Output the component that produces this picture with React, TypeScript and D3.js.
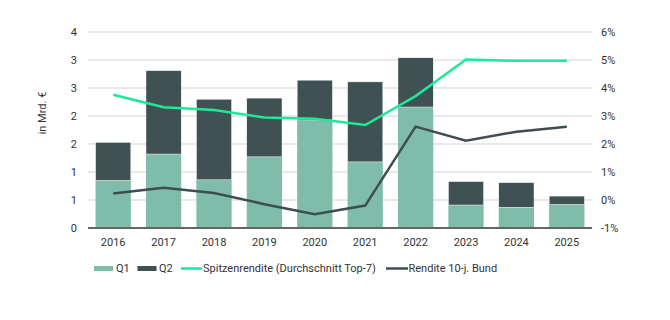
import React from "react";
import * as d3 from "d3";

const years = ["2016", "2017", "2018", "2019", "2020", "2021", "2022", "2023", "2024", "2025"];
const q1 = [0.85, 1.32, 0.86, 1.27, 1.93, 1.18, 2.16, 0.41, 0.37, 0.42];
const q2 = [0.68, 1.49, 1.44, 1.05, 0.71, 1.43, 0.88, 0.42, 0.44, 0.15];
const spitzen = [3.76, 3.31, 3.21, 2.95, 2.9, 2.68, 3.71, 5.02, 4.97, 4.97];
const bund = [0.23, 0.44, 0.25, -0.15, -0.51, -0.2, 2.62, 2.12, 2.44, 2.62];
const leftTicks = [0, 0.5, 1, 1.5, 2, 2.5, 3, 3.5];
const rightTicks = [-1, 0, 1, 2, 3, 4, 5, 6];

const W = 670, H = 320;
const M = { left: 88, right: 592, top: 32, bottom: 228 };
const C = { q1: "#80bcaa", q2: "#3f5153", green: "#1de996", bund: "#3e4e50", grid: "#d3d3d3", text: "#333" };
const FONT = "Roboto, 'Noto Sans', sans-serif";

export default function App() {
  const x = d3.scaleBand<string>().domain(years).range([M.left, M.right]).paddingInner(0.3).paddingOuter(0.15);
  const yL = d3.scaleLinear().domain([0, 3.5]).range([M.bottom, M.top]);
  const yR = d3.scaleLinear().domain([-1, 6]).range([M.bottom, M.top]);
  const cx = (y: string) => (x(y) as number) + x.bandwidth() / 2;
  const line = d3.line<number>().x((_, i) => cx(years[i])).y((d) => yR(d));
  const fmtL = (v: number) => String(Math.round(v + 1e-9));

  return (
    <svg width={W} height={H} style={{ position: "absolute", left: 0, top: 0, fontFamily: FONT }}>
      <rect width={W} height={H} fill="#fff" />
      {leftTicks.map((t) => (
        <g key={t}>
          {t !== 0 && <line x1={M.left} x2={M.right} y1={yL(t)} y2={yL(t)} stroke={C.grid} strokeWidth={1} />}
          <text x={77} y={yL(t)} dy="0.35em" textAnchor="end" fontSize={11} fill={C.text}>{fmtL(t)}</text>
        </g>
      ))}
      {rightTicks.map((t) => (
        <text key={t} x={601} y={yR(t)} dy="0.35em" textAnchor="start" fontSize={11} fill={C.text}>{t + "%"}</text>
      ))}
      <text transform={`translate(46,113) rotate(-90)`} textAnchor="middle" fontSize={11} fill={C.text}>in Mrd. €</text>
      {years.map((yr, i) => (
        <g key={yr}>
          <rect x={x(yr)} y={yL(q1[i])} width={x.bandwidth()} height={yL(0) - yL(q1[i])} fill={C.q1} />
          <rect x={x(yr)} y={yL(q1[i] + q2[i])} width={x.bandwidth()} height={yL(q1[i]) - yL(q1[i] + q2[i])} fill={C.q2} stroke="#fff" strokeWidth={0.5} />
          <text x={cx(yr)} y={242} dy="0.35em" textAnchor="middle" fontSize={11} fill={C.text}>{yr}</text>
        </g>
      ))}
      <line x1={M.left} x2={M.right} y1={M.bottom} y2={M.bottom} stroke="#666" strokeWidth={2} />
      <path d={line(spitzen) || ""} fill="none" stroke={C.green} strokeWidth={2.5} />
      <path d={line(bund) || ""} fill="none" stroke={C.bund} strokeWidth={2.5} />
      <g fontSize={11} fill={C.text}>
        <rect x={94} y={266} width={19} height={5} fill={C.q1} />
        <text x={116} y={268.5} dy="0.35em">Q1</text>
        <rect x={137.5} y={266} width={19} height={5} fill={C.q2} />
        <text x={159} y={268.5} dy="0.35em">Q2</text>
        <line x1={181} x2={202} y1={268.5} y2={268.5} stroke={C.green} strokeWidth={2.5} />
        <text x={203} y={268.5} dy="0.35em">Spitzenrendite (Durchschnitt Top-7)</text>
        <line x1={386} x2={408} y1={268.5} y2={268.5} stroke={C.bund} strokeWidth={2.5} />
        <text x={408.5} y={268.5} dy="0.35em">Rendite 10-j. Bund</text>
      </g>
    </svg>
  );
}
